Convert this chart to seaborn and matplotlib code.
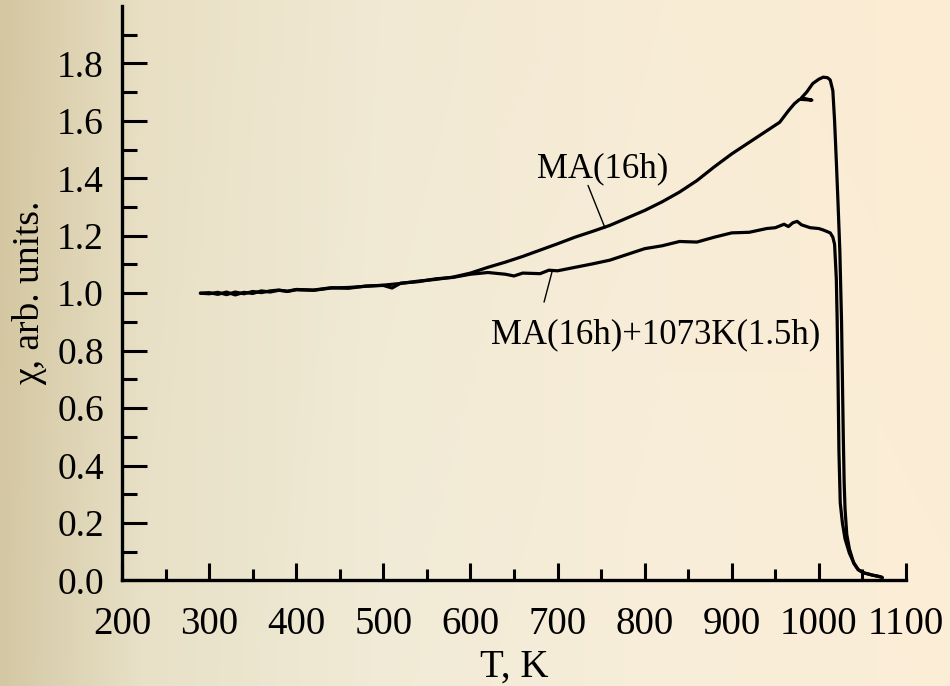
import numpy as np
import pandas as pd
import seaborn as sns
import matplotlib
matplotlib.use("Agg")
import matplotlib.pyplot as plt

# ---- data ----
T_ma = [290, 300, 310, 320, 330, 340, 350, 360, 370, 380, 390, 400, 420, 440, 460, 480,
        500, 520, 540, 560, 580, 600, 620, 640, 660, 680, 700, 720, 740, 760, 780, 800,
        820, 840, 860, 880, 900, 920, 940, 955, 965, 972, 978, 992, 980, 986, 993, 1000,
        1005, 1010, 1013, 1016, 1018, 1020, 1022, 1024, 1026, 1027, 1028, 1029, 1030,
        1032, 1035, 1040, 1045, 1050, 1055, 1062, 1068, 1073]
chi_ma = [1.000, 0.998, 1.003, 0.995, 1.004, 0.998, 1.006, 1.002, 1.008, 1.011, 1.006,
          1.012, 1.010, 1.018, 1.020, 1.024, 1.028, 1.034, 1.042, 1.048, 1.056, 1.070,
          1.090, 1.108, 1.128, 1.150, 1.172, 1.195, 1.215, 1.236, 1.262, 1.288, 1.318,
          1.352, 1.392, 1.440, 1.485, 1.525, 1.565, 1.595, 1.635, 1.660, 1.675, 1.672,
          1.680, 1.700, 1.730, 1.745, 1.752, 1.750, 1.742, 1.705, 1.600, 1.460, 1.310,
          1.150, 0.900, 0.700, 0.500, 0.340, 0.250, 0.160, 0.110, 0.060, 0.038, 0.028,
          0.024, 0.018, 0.015, 0.010]

T_ann = [290, 300, 310, 320, 330, 340, 350, 360, 370, 380, 390, 400, 420, 440, 460, 480,
         500, 510, 520, 540, 560, 580, 600, 620, 640, 650, 660, 680, 690, 700, 720, 740,
         760, 780, 800, 820, 840, 860, 880, 900, 920, 940, 950, 960, 965, 970, 975, 980,
         990, 1000, 1005, 1013, 1016, 1018, 1020, 1021, 1022, 1023, 1024.5, 1027, 1030,
         1035, 1040, 1045, 1052, 1060, 1067, 1072]
chi_ann = [1.000, 1.002, 0.996, 1.004, 0.994, 1.003, 0.999, 1.008, 1.004, 1.010, 1.007,
           1.013, 1.011, 1.019, 1.017, 1.025, 1.027, 1.018, 1.035, 1.040, 1.050, 1.055,
           1.066, 1.072, 1.066, 1.060, 1.070, 1.068, 1.080, 1.078, 1.090, 1.102, 1.115,
           1.135, 1.155, 1.165, 1.180, 1.178, 1.195, 1.210, 1.212, 1.225, 1.228, 1.240,
           1.232, 1.245, 1.250, 1.238, 1.228, 1.225, 1.220, 1.210, 1.195, 1.170, 1.050,
           0.900, 0.690, 0.450, 0.270, 0.200, 0.145, 0.095, 0.062, 0.038, 0.026, 0.020,
           0.015, 0.012]

label_ma = "MA(16h)"
label_ann = "MA(16h)+1073K(1.5h)"
x_ticks = [200, 300, 400, 500, 600, 700, 800, 900, 1000, 1100]
y_ticks = [0.0, 0.2, 0.4, 0.6, 0.8, 1.0, 1.2, 1.4, 1.6, 1.8]

df = pd.concat([
    pd.DataFrame({"T": T_ma, "chi": chi_ma, "sample": label_ma}),
    pd.DataFrame({"T": T_ann, "chi": chi_ann, "sample": label_ann}),
], ignore_index=True)

sns.set_theme(style="ticks")
plt.rcParams["font.family"] = ["Liberation Serif", "DejaVu Serif"]
plt.rcParams["text.color"] = "black"
plt.rcParams["axes.labelcolor"] = "black"
plt.rcParams["xtick.color"] = "black"
plt.rcParams["ytick.color"] = "black"

W, H = 950, 686
fig = plt.figure(figsize=(W / 100, H / 100), dpi=100)

# background gradient
bg = fig.add_axes([0, 0, 1, 1], zorder=-10)
xs = np.linspace(0, 1, 400)
ys = np.linspace(0, 1, 300)
stops_x = [0.0, 0.15, 0.4, 0.7, 1.0]
cols = np.array([[212, 198, 160], [232, 223, 196], [241, 233, 211],
                 [248, 236, 214], [252, 236, 211]]) / 255.0
grad = np.stack([np.interp(xs, stops_x, cols[:, c]) for c in range(3)], axis=-1)
img = np.repeat(grad[None, :, :], len(ys), axis=0)
vshade = (ys[:, None, None] * 0.012)
img = np.clip(img + vshade * np.array([0.0, 0.6, 1.2]), 0, 1)
bg.imshow(img, aspect="auto", extent=[0, 1, 0, 1], origin="upper")
bg.set_axis_off()

ax = fig.add_axes([0.1284, 0.1538, 0.8253, 0.8376])
ax.set_facecolor("none")

sns.lineplot(data=df, x="T", y="chi", units="sample", estimator=None, sort=False,
             color="black", linewidth=2.3, ax=ax, legend=False)

ax.set_xlim(200, 1100)
ax.set_ylim(0, 2.0)
ax.set_xticks(x_ticks)
ax.set_xticklabels([str(v) for v in x_ticks])
ax.set_yticks(y_ticks)
ax.set_yticklabels([f"{v:.1f}" for v in y_ticks])
ax.set_xticks(np.arange(250, 1100, 100), minor=True)
ax.set_yticks(np.arange(0.1, 2.0, 0.2), minor=True)

for s in ["top", "right"]:
    ax.spines[s].set_visible(False)
for s in ["left", "bottom"]:
    ax.spines[s].set_linewidth(2.4)
    ax.spines[s].set_color("black")

ax.tick_params(axis="x", which="major", direction="in", length=12.5, width=2.2,
               labelsize=28, pad=18.5)
ax.tick_params(axis="x", which="minor", direction="in", length=8, width=2.2)
ax.tick_params(axis="y", which="major", direction="in", length=18, width=2.2,
               labelsize=27, pad=13)
ax.tick_params(axis="y", which="minor", direction="in", length=10.5, width=2.2)

ax.set_xlabel("T, K", fontsize=28, labelpad=4)
ax.set_ylabel("χ, arb. units.", fontsize=27, labelpad=7)

# labels with leader lines
ax.text(752, 1.404, label_ma, fontsize=25, ha="center", va="baseline")
ax.plot([735, 754.5], [1.375, 1.227], color="black", lw=1.0)
ax.text(813, 0.827, label_ann, fontsize=25, ha="center", va="baseline")
ax.plot([684.5, 693.6], [0.969, 1.074], color="black", lw=1.0)

fig.savefig("out.png", dpi=100)
